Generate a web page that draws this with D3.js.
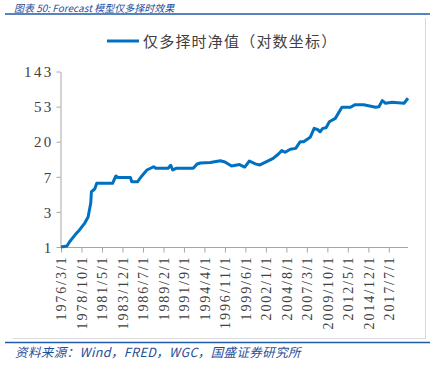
<!DOCTYPE html>
<html><head><meta charset="utf-8">
<script src="https://cdn.jsdelivr.net/npm/d3@7"></script>
<style>
html,body{margin:0;padding:0;background:#fff;}
svg{display:block;}
</style>
</head><body>
<svg id="c" width="444" height="373"></svg>
<script>
const title = "图表 50: Forecast 模型仅多择时效果";
const legendLabel = "仅多择时净值（对数坐标）";
const source = "资料来源：Wind，FRED，WGC，国盛证券研究所";
const yTicks = [1, 3, 7, 20, 53, 143];
const yTickValues = [1, 2.7, 7.29, 19.683, 53.1441, 143.489];
const xTickLabels = ["1976/3/1","1978/10/1","1981/5/1","1983/12/1","1986/7/1","1989/2/1","1991/9/1","1994/4/1","1996/11/1","1999/6/1","2002/1/1","2004/8/1","2007/3/1","2009/10/1","2012/5/1","2014/12/1","2017/7/1"];
const dates = ["1976-03","1976-12","1977-04","1977-12","1978-07","1979-03","1979-08","1979-12","1980-01","1980-06","1980-09","1982-09","1983-02","1983-05","1984-12","1985-02","1985-11","1986-04","1987-01","1987-11","1988-03","1989-09","1990-01","1990-04","1990-09","1992-11","1993-05","1993-10","1995-01","1996-04","1996-11","1997-09","1998-09","1999-05","1999-12","2000-09","2001-04","2002-02","2002-12","2003-08","2004-01","2004-06","2005-02","2005-10","2006-05","2006-10","2007-08","2008-02","2008-07","2008-11","2009-03","2009-08","2010-01","2010-10","2011-08","2012-09","2013-04","2014-05","2015-11","2016-04","2016-09","2017-02","2017-12","2019-06","2019-12"];
const values = [1.0,1.03,1.16,1.40,1.62,1.97,2.34,3.47,4.78,5.16,6.07,6.07,7.46,7.15,7.15,6.35,6.35,7.25,8.83,9.69,9.26,9.26,10.1,8.83,9.26,9.26,10.46,10.77,10.9,11.5,11.07,9.9,10.3,9.6,11.4,10.5,10.2,11.2,12.3,13.9,15.3,14.6,15.9,16.3,19.7,19.7,22.3,28.7,27.8,26.1,28.7,29.2,34.6,38.1,52.2,52.2,56.1,56.1,52.2,52.8,62.9,58.4,60.1,58.4,67.2];

const svg = d3.select("#c");
const parse = d3.timeParse("%Y-%m");
const parseTick = d3.timeParse("%Y/%m/%d");
const data = dates.map((d,i)=>({date: parse(d), v: values[i]}));

const x = d3.scaleTime().domain([parse("1976-03"), parse("2019-12")]).range([61, 408]);
const y = d3.scaleLog().base(2.7).domain([1, 143.489]).range([247, 71.5]);

// title
svg.append("text").attr("x", 14).attr("y", 11.6)
  .attr("font-family", "'Noto Sans CJK SC', sans-serif").attr("font-size", 10)
  .attr("font-style", "italic").attr("fill", "#1F4E9A").text(title);
svg.append("line").attr("x1", 5).attr("x2", 430).attr("y1", 14).attr("y2", 14)
  .attr("stroke", "#1F5BAA").attr("stroke-width", 1.6);

// frame (light gray)
svg.append("line").attr("x1", 425.5).attr("x2", 425.5).attr("y1", 18).attr("y2", 338.5)
  .attr("stroke", "#D9D9D9").attr("stroke-width", 1);
svg.append("line").attr("x1", 13).attr("x2", 425.5).attr("y1", 338.5).attr("y2", 338.5)
  .attr("stroke", "#D9D9D9").attr("stroke-width", 1);

// bottom blue rule and source
svg.append("line").attr("x1", 5).attr("x2", 430).attr("y1", 342.5).attr("y2", 342.5)
  .attr("stroke", "#1F5BAA").attr("stroke-width", 1.6);
svg.append("text").attr("x", 15).attr("y", 356.5)
  .attr("font-family", "'Noto Sans CJK SC', sans-serif").attr("font-size", 12.5)
  .attr("letter-spacing", 0.4)
  .attr("font-style", "italic").attr("fill", "#1F4E9A").text(source);

// legend
svg.append("line").attr("x1", 107).attr("x2", 139).attr("y1", 41).attr("y2", 41)
  .attr("stroke", "#0070C0").attr("stroke-width", 3);
svg.append("text").attr("x", 143).attr("y", 46.5)
  .attr("font-family", "'Noto Sans CJK SC', sans-serif").attr("font-size", 15)
  .attr("letter-spacing", 1.2).attr("fill", "#404040").text(legendLabel);

// y axis
const yAxis = d3.axisLeft(y).tickValues(yTickValues).tickSize(4).tickSizeOuter(0)
  .tickFormat((d,i)=>yTicks[i]);
const gy = svg.append("g").attr("transform", "translate(60.5,0)").call(yAxis);
gy.select(".domain").attr("stroke", "#A6A6A6");
gy.selectAll(".tick line").attr("stroke", "#A6A6A6");
gy.selectAll(".tick text").attr("font-family", "'Liberation Serif', serif").attr("font-size", 15)
  .attr("letter-spacing", 2.3).attr("fill", "#404040").attr("x", -7).attr("dy", "0.35em");

// x axis
const xAxis = d3.axisBottom(x).tickValues(xTickLabels.map(s=>parseTick(s))).tickSize(5).tickSizeOuter(0)
  .tickFormat((d,i)=>xTickLabels[i]);
const gx = svg.append("g").attr("transform", "translate(0,247.5)").call(xAxis);
gx.select(".domain").attr("stroke", "#A6A6A6").attr("d", "M60,0H408");
gx.selectAll(".tick line").attr("stroke", "#A6A6A6");
gx.selectAll(".tick text").attr("font-family", "'Liberation Serif', serif").attr("font-size", 14)
  .attr("letter-spacing", 1.9).attr("fill", "#404040")
  .attr("text-anchor", "end").attr("transform", "rotate(-90)")
  .attr("x", -8).attr("y", 0).attr("dy", "0.35em");

// line
const line = d3.line().x(d=>x(d.date)).y(d=>y(d.v));
svg.append("path").datum(data).attr("d", line).attr("fill", "none")
  .attr("stroke", "#0070C0").attr("stroke-width", 3).attr("stroke-linejoin", "round");
</script>
</body></html>
